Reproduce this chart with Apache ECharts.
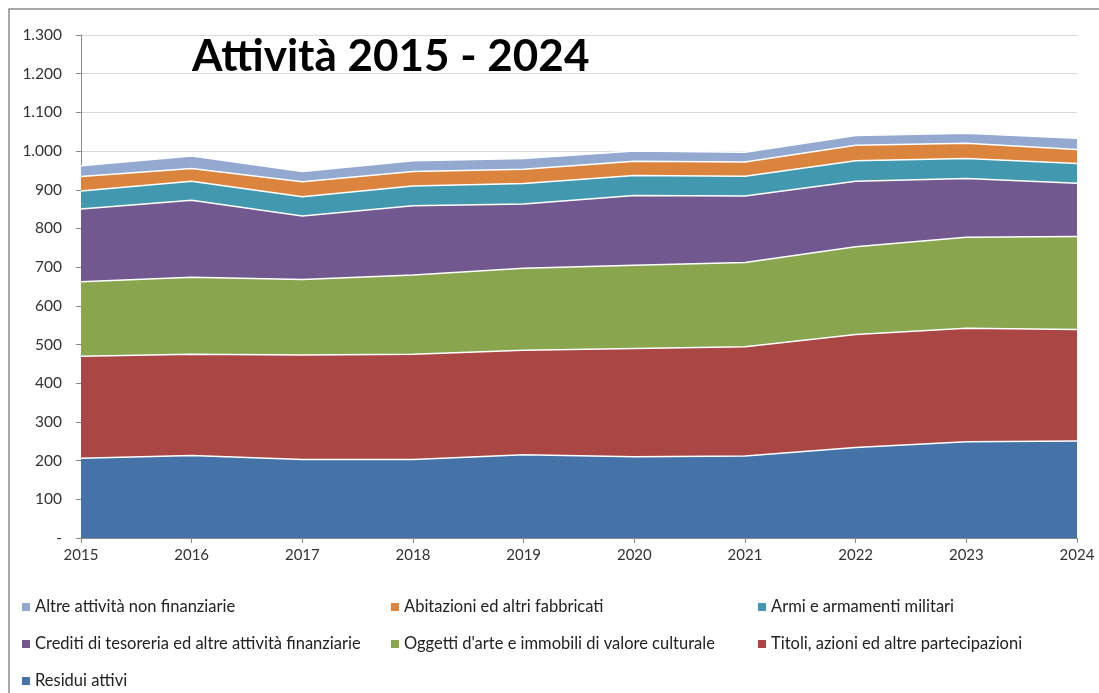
<!DOCTYPE html>
<html>
<head>
<meta charset="utf-8">
<script src="https://cdn.jsdelivr.net/npm/echarts@6/dist/echarts.min.js"></script>
<style>html,body{margin:0;padding:0;background:#fff}#c{width:1099px;height:693px}</style>
</head>
<body>
<div id="c"></div>
<script>
const years = ['2015','2016','2017','2018','2019','2020','2021','2022','2023','2024'];
const residui    = [206, 213, 203, 203, 215, 210, 212, 234, 249, 251];
const titoli     = [264, 262, 270, 272, 270, 280, 282, 292, 293, 288];
const oggetti    = [192, 199, 195, 205, 212, 215, 218, 227, 235, 240];
const crediti    = [188, 199, 164, 179, 166, 180, 172, 169, 152, 138];
const armi       = [47, 49, 50, 51, 53, 52, 51, 53, 52, 51];
const abitazioni = [37, 33, 39, 37, 37, 37, 37, 40, 39, 36];
const altre      = [28, 32, 26, 28, 28, 26, 25, 25, 26, 29];

const names = {
  residui: 'Residui attivi',
  titoli: 'Titoli, azioni ed altre partecipazioni',
  oggetti: "Oggetti d'arte e immobili di valore culturale",
  crediti: 'Crediti di tesoreria ed altre attività finanziarie',
  armi: 'Armi e armamenti militari',
  abitazioni: 'Abitazioni ed altri fabbricati',
  altre: 'Altre attività non finanziarie'
};
const colors = {
  residui: '#4572A7', titoli: '#AA4643', oggetti: '#89A54E', crediti: '#71588F',
  armi: '#4198AF', abitazioni: '#DB843D', altre: '#93A9CF'
};
const dataMap = {residui, titoli, oggetti, crediti, armi, abitazioni, altre};
const order = ['residui','titoli','oggetti','crediti','armi','abitazioni','altre'];

const series = order.map(k => ({
  name: names[k],
  type: 'line',
  stack: 'total',
  data: dataMap[k],
  symbol: 'none',
  itemStyle: {color: colors[k]},
  lineStyle: {color: '#ffffff', width: 1.5},
  areaStyle: {color: colors[k], opacity: 1},
  emphasis: {disabled: true}
}));

function fmt(v){
  if (v === 0) return '-';
  return String(v).replace(/\B(?=(\d{3})+(?!\d))/g, '.');
}

// legend layout: [key, left, rowCenterY]
const legendPos = [
  ['altre', 22, 607], ['abitazioni', 391, 607], ['armi', 758, 607],
  ['crediti', 22, 644], ['oggetti', 391, 644], ['titoli', 758, 644],
  ['residui', 22, 681]
];
const legends = legendPos.map(([k, left, cy]) => ({
  orient: 'horizontal',
  icon: 'rect',
  itemWidth: 8,
  itemHeight: 8,
  left: left,
  top: cy - 10,
  padding: 0,
  textStyle: {fontFamily: 'Lato', fontSize: 16.5, color: '#222', lineHeight: 20},
  selectedMode: false,
  data: [names[k]]
}));

const chart = echarts.init(document.getElementById('c'), null, {renderer: 'canvas'});
chart.setOption({
  animation: false,
  backgroundColor: '#fff',
  graphic: [{
    type: 'rect',
    shape: {x: 9, y: 9, width: 1200, height: 800},
    style: {fill: 'none', stroke: '#8a8a8a', lineWidth: 1.5},
    silent: true, z: 100
  }, {
    type: 'text',
    left: 192, top: 35,
    style: {text: 'Attività 2015 - 2024', fontFamily: 'Lato', fontWeight: 'bold', fontSize: 44, fill: '#000'},
    z: 100
  }],
  grid: {left: 81, right: 22, top: 35, bottom: 155, containLabel: false},
  xAxis: {
    type: 'category',
    data: years,
    boundaryGap: false,
    axisLine: {lineStyle: {color: '#8a8a8a', width: 1}},
    axisTick: {show: true, length: 5, alignWithLabel: true, lineStyle: {color: '#8a8a8a'}},
    axisLabel: {fontFamily: 'Lato', fontSize: 15, color: '#333', margin: 10, showMaxLabel: true, showMinLabel: true, interval: 0},
    splitLine: {show: false}
  },
  yAxis: {
    type: 'value',
    min: 0, max: 1300, interval: 100,
    axisLine: {show: true, lineStyle: {color: '#8a8a8a', width: 1}},
    axisTick: {show: true, length: 5, lineStyle: {color: '#8a8a8a'}},
    axisLabel: {fontFamily: 'Lato', fontSize: 15.5, color: '#333', margin: 19, formatter: fmt},
    splitLine: {show: true, lineStyle: {color: '#d9d9d9', width: 1}}
  },
  legend: legends,
  series: series
});
</script>
</body>
</html>
